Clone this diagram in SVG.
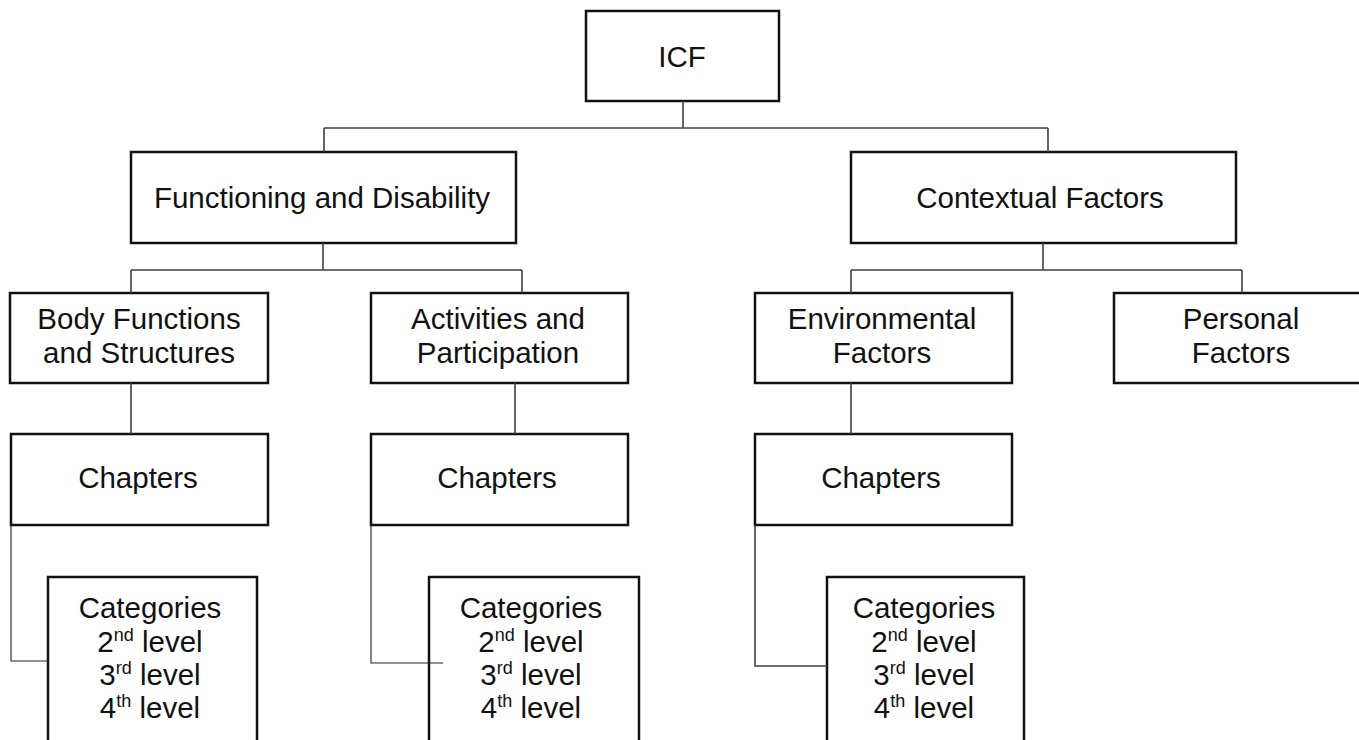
<svg xmlns="http://www.w3.org/2000/svg" width="1359" height="740" viewBox="0 0 1359 740">
  <style>
    .box { fill: #ffffff; stroke: #111111; stroke-width: 2.5; }
    .lbl { font-family: "Liberation Sans", Arial, sans-serif; font-size: 29.5px; fill: #111111; text-anchor: middle; }
    .sup { font-size: 18px; }
    .wire { fill: none; stroke: #404040; stroke-width: 1.6; }
    .thin { fill: none; stroke: #222222; stroke-width: 1.1; }
  </style>
  <rect width="1359" height="740" fill="#ffffff"/>

  <!-- nodes -->
  <g id="icf">
    <rect class="box" x="586" y="11" width="193" height="90"/>
    <text class="lbl" x="682" y="67">ICF</text>
  </g>
  <g id="functioning">
    <rect class="box" x="131" y="152" width="385" height="91"/>
    <text class="lbl" x="322" y="208">Functioning and Disability</text>
  </g>
  <g id="contextual">
    <rect class="box" x="851" y="152" width="385" height="91"/>
    <text class="lbl" x="1040" y="208">Contextual Factors</text>
  </g>
  <g id="body">
    <rect class="box" x="10" y="293" width="258" height="90"/>
    <text class="lbl" x="139" y="329">Body Functions</text>
    <text class="lbl" x="139" y="363">and Structures</text>
  </g>
  <g id="activities">
    <rect class="box" x="371" y="293" width="257" height="90"/>
    <text class="lbl" x="498" y="329">Activities and</text>
    <text class="lbl" x="498" y="363">Participation</text>
  </g>
  <g id="environmental">
    <rect class="box" x="755" y="293" width="257" height="90"/>
    <text class="lbl" x="882" y="329">Environmental</text>
    <text class="lbl" x="882" y="363">Factors</text>
  </g>
  <g id="personal">
    <rect class="box" x="1114" y="293" width="256" height="90"/>
    <text class="lbl" x="1241" y="329">Personal</text>
    <text class="lbl" x="1241" y="363">Factors</text>
  </g>
  <g id="chapters-body">
    <rect class="box" x="11" y="434" width="257" height="91"/>
    <text class="lbl" x="138" y="488">Chapters</text>
  </g>
  <g id="chapters-activities">
    <rect class="box" x="371" y="434" width="257" height="91"/>
    <text class="lbl" x="497" y="488">Chapters</text>
  </g>
  <g id="chapters-environmental">
    <rect class="box" x="755" y="434" width="257" height="91"/>
    <text class="lbl" x="881" y="488">Chapters</text>
  </g>
  <g id="categories-body">
    <rect class="box" x="48" y="577" width="209" height="180"/>
    <text class="lbl" x="150" y="618">Categories</text>
    <text class="lbl" x="150" y="652">2<tspan class="sup" dy="-11">nd</tspan><tspan dy="11"> level</tspan></text>
    <text class="lbl" x="150" y="685">3<tspan class="sup" dy="-11">rd</tspan><tspan dy="11"> level</tspan></text>
    <text class="lbl" x="150" y="718">4<tspan class="sup" dy="-11">th</tspan><tspan dy="11"> level</tspan></text>
  </g>
  <g id="categories-activities">
    <rect class="box" x="429" y="577" width="210" height="180"/>
    <text class="lbl" x="531" y="618">Categories</text>
    <text class="lbl" x="531" y="652">2<tspan class="sup" dy="-11">nd</tspan><tspan dy="11"> level</tspan></text>
    <text class="lbl" x="531" y="685">3<tspan class="sup" dy="-11">rd</tspan><tspan dy="11"> level</tspan></text>
    <text class="lbl" x="531" y="718">4<tspan class="sup" dy="-11">th</tspan><tspan dy="11"> level</tspan></text>
  </g>
  <g id="categories-environmental">
    <rect class="box" x="827" y="577" width="197" height="180"/>
    <text class="lbl" x="924" y="618">Categories</text>
    <text class="lbl" x="924" y="652">2<tspan class="sup" dy="-11">nd</tspan><tspan dy="11"> level</tspan></text>
    <text class="lbl" x="924" y="685">3<tspan class="sup" dy="-11">rd</tspan><tspan dy="11"> level</tspan></text>
    <text class="lbl" x="924" y="718">4<tspan class="sup" dy="-11">th</tspan><tspan dy="11"> level</tspan></text>
  </g>

  <!-- connectors -->
  <g id="connectors">
    <path class="wire" d="M683 101V128M324 128H1048M324 128V152M1048 128V152"/>
    <path class="wire" d="M323 243V270M131 270H522M131 270V293M522 270V293"/>
    <path class="wire" d="M1043 243V270M851 270H1242M851 270V293M1242 270V293"/>
    <path class="wire" d="M131 383V434M515 383V434M851 383V434"/>
    <path class="thin" d="M11 525V661H48"/>
    <path class="thin" d="M371 525V663H443"/>
    <path class="wire" d="M755 525V666H827"/>
  </g>
</svg>
